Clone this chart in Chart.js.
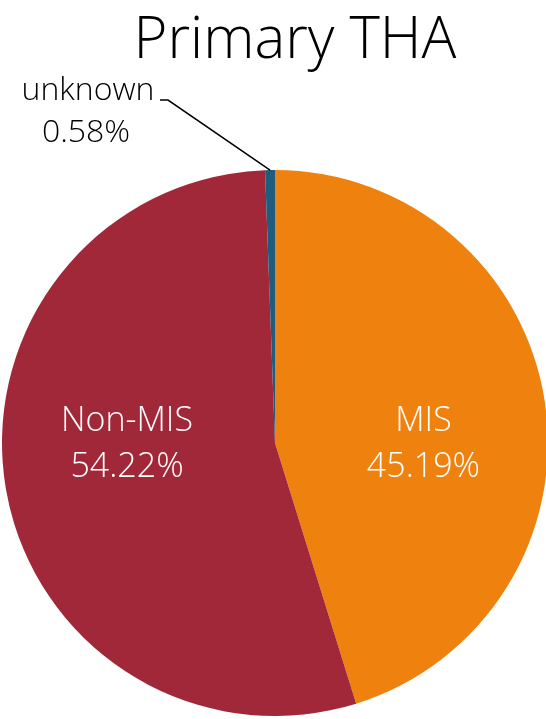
<!DOCTYPE html>
<html>
<head>
    <meta charset="utf-8" />
    <title>Primary THA</title>
    <script src="https://cdn.jsdelivr.net/npm/chart.js@4.4.1/dist/chart.umd.min.js"></script>
    <style>
        html, body { margin: 0; padding: 0; background: #fff; overflow: hidden; }
        #wrap { position: relative; width: 550px; height: 719px; }
    </style>
</head>
<body>
    <div id="wrap">
        <canvas id="pie-chart"></canvas>
    </div>
<script>
    // chart data
    var labels = ['MIS', 'Non-MIS', 'unknown'];
    var values = [45.19, 54.22, 0.58];
    var colors = ['#EF810E', '#A02839', '#1E5C80'];
    var title = 'Primary THA';

    var FONT = "'Open Sans', 'Noto Sans', sans-serif";

    // labels drawn inside the big slices, leader line for the small one
    var sliceLabels = {
        id: 'sliceLabels',
        afterDraw: function(chart) {
            var ctx = chart.ctx;
            var arcs = chart.getDatasetMeta(0).data;
            ctx.save();
            ctx.textBaseline = 'middle';
            arcs.forEach(function(arc, i) {
                var p = arc.getProps(['x', 'y', 'startAngle', 'endAngle', 'outerRadius'], true);
                var mid = (p.startAngle + p.endAngle) / 2;
                var pct = values[i].toFixed(2) + '%';
                if (values[i] > 5) {
                    var tx = p.x + Math.cos(mid) * p.outerRadius * 0.55;
                    var ty = p.y;
                    ctx.font = '300 34px ' + FONT;
                    ctx.fillStyle = '#ffffff';
                    ctx.textAlign = 'center';
                    ctx.fillText(labels[i], tx, ty - 22);
                    ctx.fillText(pct, tx, ty + 24);
                } else {
                    // outer point of the slice
                    var ox = p.x + Math.cos(mid) * p.outerRadius;
                    var oy = p.y + Math.sin(mid) * p.outerRadius;
                    var ex = ox - 102, ey = oy - 70;
                    ctx.strokeStyle = '#000';
                    ctx.lineWidth = 1.5;
                    ctx.beginPath();
                    ctx.moveTo(ox, oy);
                    ctx.lineTo(ex, ey);
                    ctx.lineTo(ex - 8, ey);
                    ctx.stroke();
                    ctx.fillStyle = '#000';
                    ctx.font = '300 32px ' + FONT;
                    ctx.textAlign = 'center';
                    ctx.fillText(labels[i], ex - 80, ey - 9);
                    ctx.fillText(pct, ex - 82, ey + 33);
                }
            });
            ctx.restore();
        }
    };

    // big title over the pie
    var bigTitle = {
        id: 'bigTitle',
        afterDraw: function(chart) {
            var ctx = chart.ctx;
            var a = chart.chartArea;
            ctx.save();
            ctx.font = '300 58px ' + FONT;
            ctx.fillStyle = '#000';
            ctx.textAlign = 'center';
            ctx.textBaseline = 'alphabetic';
            ctx.fillText(title, (a.left + a.right) / 2 + 20, 58);
            ctx.restore();
        }
    };

    new Chart(document.getElementById('pie-chart'), {
        type: 'pie',
        data: {
            labels: labels,
            datasets: [{
                data: values,
                backgroundColor: colors,
                borderWidth: 0
            }]
        },
        options: {
            responsive: true,
            maintainAspectRatio: false,
            animation: false,
            layout: { padding: { left: 2, right: 2, top: 170, bottom: 3 } },
            plugins: {
                legend: { display: false },
                title: { display: false },
                tooltip: { enabled: false }
            }
        },
        plugins: [sliceLabels, bigTitle]
    });
</script>
</body>
</html>
